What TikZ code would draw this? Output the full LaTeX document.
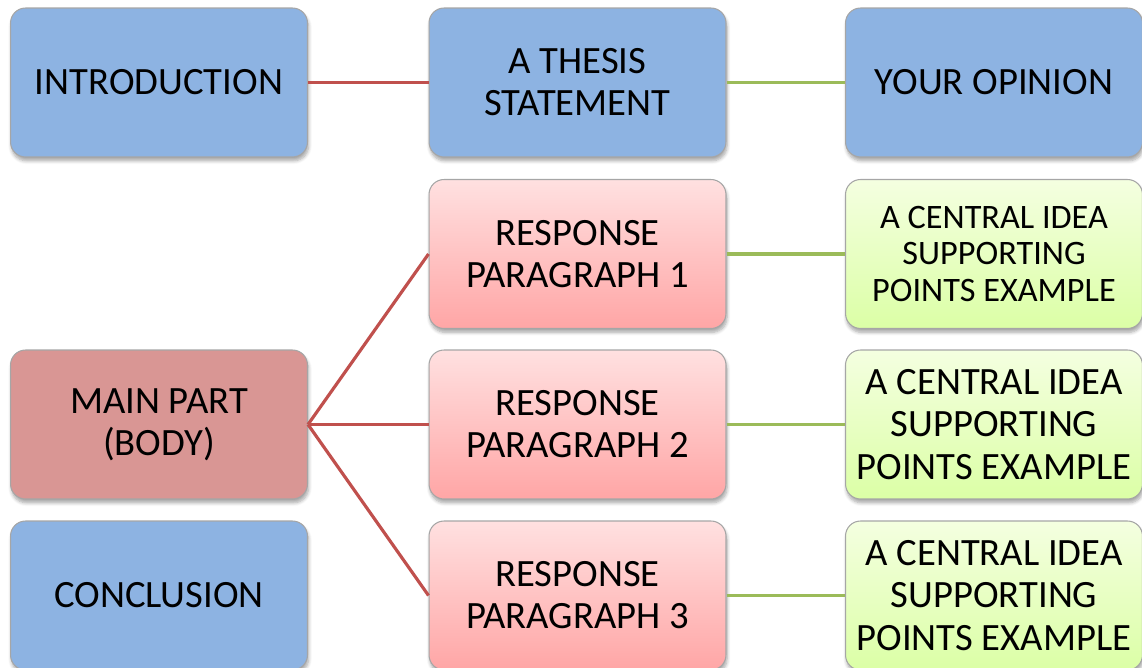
\documentclass[tikz,border=0pt]{standalone}
\usepackage{fontspec}
\setmainfont{Carlito}
\usepackage{xcolor}
\usetikzlibrary{shadows.blur}

\definecolor{boxblue}{HTML}{8DB3E2}
\definecolor{boxmain}{HTML}{D99694}
\definecolor{linered}{HTML}{C0504D}
\definecolor{linegreen}{HTML}{9BBB59}

\begin{document}
\begin{tikzpicture}[x=0.02cm, y=-0.02cm,
  box/.style={draw=gray!70, line width=0.6pt, rounded corners=0.3cm,
    minimum width=5.94cm, minimum height=2.98cm, align=center,
    font=\fontsize{22}{24}\selectfont,
    blur shadow={shadow blur steps=6, shadow xshift=0.6pt, shadow yshift=-2.2pt, shadow opacity=35}},
  bluebox/.style={box, fill=boxblue},
  mainbox/.style={box, fill=boxmain},
  pinkbox/.style={box, top color=red!12, bottom color=red!35!white},
  greenbox/.style={box, top color=green!35!yellow!12, bottom color=green!40!yellow!35},
  redlink/.style={linered, line width=1.8pt},
  greenlink/.style={linegreen, line width=1.8pt}]
\useasboundingbox (0,0) rectangle (1142,668);
\clip (0,0) rectangle (1142,668);

%--- left column ---
\node[bluebox] (intro) at (159,82.5) {INTRODUCTION};
\node[mainbox] (main) at (159,424.5) {MAIN PART\\(BODY)};
\node[bluebox] (concl) at (159,595.5) {CONCLUSION};

%--- middle column ---
\node[bluebox] (thesis) at (577.5,82.5) {A THESIS\\STATEMENT};
\foreach \i/\y in {1/254, 2/424.5, 3/595.5}
  \node[pinkbox] (resp\i) at (577.5,\y) {RESPONSE\\PARAGRAPH \i};

%--- right column ---
\node[bluebox] (opinion) at (994,82.5) {YOUR OPINION};
\node[greenbox, font=\fontsize{19.5}{21}\selectfont] (idea1) at (994,254)
  {A CENTRAL IDEA\\SUPPORTING\\POINTS EXAMPLE};
\node[greenbox] (idea2) at (994,424.5) {A CENTRAL IDEA\\SUPPORTING\\POINTS EXAMPLE};
\node[greenbox] (idea3) at (994,595.5) {A CENTRAL IDEA\\SUPPORTING\\POINTS EXAMPLE};

% Connectors
\draw[redlink] (intro.east) -- (thesis.west);
\draw[greenlink] (thesis.east) -- (opinion.west);
\foreach \i in {1,2,3} {
  \draw[redlink] (main.east) -- (resp\i.west);
  \draw[greenlink] (resp\i.east) -- (idea\i.west);
}
\end{tikzpicture}
\end{document}
